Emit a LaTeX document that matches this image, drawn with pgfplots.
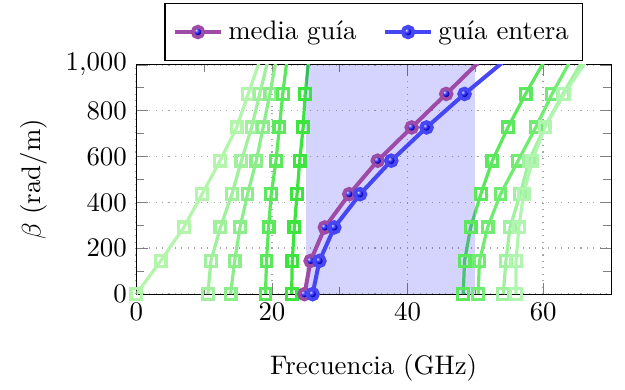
\documentclass[border=0pt]{standalone}
\usepackage{pgfplots}
\pgfplotsset{compat=1.18}
\definecolor{gA}{RGB}{180,245,172}
\definecolor{gB}{RGB}{160,240,158}
\definecolor{gC}{RGB}{140,238,138}
\definecolor{gD}{RGB}{92,232,92}
\definecolor{gE}{RGB}{62,228,62}
\definecolor{gR1}{RGB}{92,232,92}
\definecolor{gR2}{RGB}{112,236,112}
\definecolor{gR3}{RGB}{160,242,160}
\definecolor{gR4}{RGB}{176,245,176}
\definecolor{mpurple}{RGB}{158,75,168}
\definecolor{mblue}{RGB}{70,70,245}
\pgfplotsset{gmode/.style={line width=1.2pt, mark=square, mark size=2pt, mark options={line width=1.2pt, solid}, forget plot}}
\begin{document}
\begin{tikzpicture}
\begin{axis}[
  scale only axis,
  width=177pt, height=85.5pt,
  xmin=0, xmax=70, ymin=0, ymax=1000,
  xtick={0,20,40,60}, ytick={0,200,400,600,800,1000},
  minor x tick num=1, minor y tick num=1,
  grid=major,
  major grid style={gray!70, dotted, line width=0.6pt},
  xlabel={Frecuencia (GHz)},
  ylabel={$\beta$ (rad/m)},
  xlabel style={yshift=-5.5pt},
  legend columns=2,
  legend style={at={(0.5,1.015)}, anchor=south, draw=black, inner ysep=4.5pt, /tikz/every even column/.append style={column sep=8pt}},
  legend cell align=left,
  clip=true,
]
% green mode curves, left
\addplot[gA, gmode] coordinates {
(0,0) (3.6,145) (7.0,291) (9.7,436) (12.35,582) (14.8,727) (16.5,873) (18.2,1018)};
\addplot[gB, gmode] coordinates {
(10.55,0) (11.0,145) (12.4,291) (14.1,436) (15.5,582) (17.0,727) (18.2,873) (19.4,1018)};
\addplot[gC, gmode] coordinates {
(13.9,0) (14.5,145) (15.3,291) (16.4,436) (17.7,582) (18.7,727) (19.7,873) (20.6,1018)};
\addplot[gD, gmode] coordinates {
(19.05,0) (19.2,145) (19.5,291) (19.9,436) (20.6,582) (21.1,727) (21.6,873) (22.2,1018)};
\addplot[gE, gmode] coordinates {
(22.9,0) (23.0,145) (23.3,291) (23.7,436) (24.1,582) (24.6,727) (24.9,873) (25.4,1018)};
% green mode curves, right
\addplot[gR1, gmode] coordinates {
(48.2,0) (48.4,145) (49.3,291) (50.8,436) (52.5,582) (54.8,727) (57.4,873) (60.2,1018)};
\addplot[gR2, gmode] coordinates {
(50.4,0) (50.6,145) (51.8,291) (53.7,436) (56.3,582) (58.9,727) (61.3,873) (64.0,1018)};
\addplot[gR3, gmode] coordinates {
(54.1,0) (54.5,145) (55.1,291) (56.6,436) (57.9,582) (60.2,727) (62.9,873) (65.8,1018)};
\addplot[gR4, gmode] coordinates {
(56.0,0) (56.0,145) (56.4,291) (57.1,436) (58.4,582) (60.2,727) (63.1,873) (66.4,1018)};
% shaded band
\addplot[draw=none, fill=blue, fill opacity=0.17, forget plot] coordinates {(25,0) (50,0) (50,1000) (25,1000)} -- cycle;
% main series
\addplot[mpurple, line width=1.5pt, mark=ball, mark size=2pt, mark options={ball color=blue, draw=mpurple, line width=1.4pt}] coordinates {
(24.8,0) (25.7,145) (27.8,291) (31.4,436) (35.6,582) (40.6,727) (45.7,873) (50.7,1018)};
\addlegendentry{media guía}
\addplot[mblue, line width=1.5pt, mark=ball, mark size=2pt, mark options={ball color=blue, draw=mblue, line width=1.4pt}] coordinates {
(26.0,0) (27.0,145) (29.2,291) (33.0,436) (37.6,582) (42.8,727) (48.4,873) (54.3,1018)};
\addlegendentry{guía entera}
\end{axis}
\path ([xshift=-4.3pt]current bounding box.west) -- ([xshift=5.2pt]current axis.east);
\path ([yshift=1pt]current bounding box.north);
\end{tikzpicture}
\end{document}
